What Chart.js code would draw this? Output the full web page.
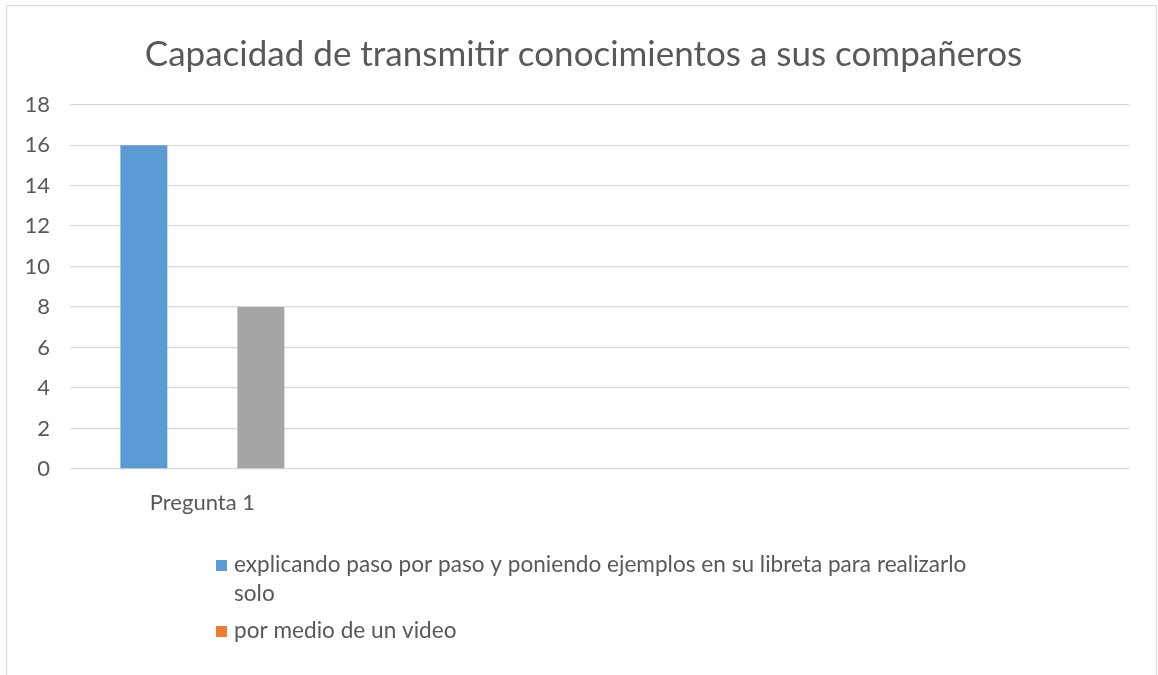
<!DOCTYPE html>
<html>
<head>
<meta charset="utf-8">
<script src="https://cdn.jsdelivr.net/npm/chart.js@4/dist/chart.umd.min.js"></script>
<style>
  html, body { margin: 0; padding: 0; background: #fff; overflow: hidden; }
  #wrap { position: relative; width: 1158px; height: 675px; }
</style>
</head>
<body>
<div id="wrap"><canvas id="grafico"></canvas></div>
<script>
// datos
const categorias = ['Pregunta 1', '', '', ''];
const serieExplicando = [16, null, null, null];
const serieVideo = [0, null, null, null];
const serieTercera = [8, null, null, null];
const nombresSeries = [
  'explicando paso por paso y poniendo ejemplos en su libreta para realizarlo solo',
  'por medio de un video',
  'serie 3'
];
const coloresSeries = ['#5B9BD5', '#ED7D31', '#A5A5A5'];
const ejeYMin = 0;
const ejeYMax = 18;
const ejeYPaso = 2;

const fuente = "Lato, 'Open Sans', sans-serif";
const grisTexto = '#595959';

// marco exterior del grafico
const marco = {
  id: 'marco',
  beforeDraw(chart) {
    const ctx = chart.ctx;
    ctx.save();
    ctx.fillStyle = '#fff';
    ctx.fillRect(0, 0, chart.width, chart.height);
    ctx.strokeStyle = '#D9D9D9';
    ctx.lineWidth = 1;
    ctx.strokeRect(6.5, 5.5, 1150, 700);
    ctx.restore();
  }
};

// el titulo va centrado sobre el area de trazado, no sobre todo el lienzo
const centrarTitulo = {
  id: 'centrarTitulo',
  afterLayout(chart) {
    if (chart.titleBlock) {
      chart.titleBlock.left = 38;
    }
  }
};

// leyenda estilo excel, una entrada por linea con ajuste de texto
const leyenda = {
  id: 'leyenda',
  afterDraw(chart) {
    const ctx = chart.ctx;
    ctx.save();
    ctx.font = '22.6px ' + fuente;
    ctx.textBaseline = 'middle';
    var y = 565;
    for (var i = 0; i < 2; i++) {
      var ds = chart.data.datasets[i];
      ctx.fillStyle = ds.backgroundColor;
      ctx.fillRect(216, y - 5, 11, 11);
      ctx.fillStyle = grisTexto;
      var palabras = ds.label.split(' ');
      var linea = '';
      var lineas = [];
      for (var p = 0; p < palabras.length; p++) {
        var prueba = linea ? linea + ' ' + palabras[p] : palabras[p];
        if (ctx.measureText(prueba).width > 760 && linea) {
          lineas.push(linea);
          linea = palabras[p];
        } else {
          linea = prueba;
        }
      }
      lineas.push(linea);
      for (var l = 0; l < lineas.length; l++) {
        ctx.fillText(lineas[l], 234, y);
        y += 29;
      }
      y += 8;
    }
    ctx.restore();
  }
};

new Chart(document.getElementById('grafico'), {
  type: 'bar',
  data: {
    labels: categorias,
    datasets: [
      { label: nombresSeries[0], data: serieExplicando, backgroundColor: coloresSeries[0] },
      { label: nombresSeries[1], data: serieVideo, backgroundColor: coloresSeries[1] },
      { label: nombresSeries[2], data: serieTercera, backgroundColor: coloresSeries[2] }
    ]
  },
  options: {
    responsive: true,
    maintainAspectRatio: false,
    animation: false,
    categoryPercentage: 0.663,
    barPercentage: 0.803,
    layout: { padding: { left: 6, right: 29, top: 0, bottom: 0 } },
    plugins: {
      legend: { display: false },
      tooltip: { enabled: false },
      title: {
        display: true,
        text: 'Capacidad de transmitir conocimientos a sus compañeros',
        color: grisTexto,
        font: { family: fuente, size: 35, weight: 'normal' },
        padding: { top: 34, bottom: 28.7 }
      }
    },
    scales: {
      x: {
        grid: { display: false },
        border: { display: false },
        ticks: { color: grisTexto, font: { family: fuente, size: 22 }, padding: 13 },
        afterFit: function(s) { s.height = 206; }
      },
      y: {
        min: ejeYMin,
        max: ejeYMax,
        ticks: { stepSize: ejeYPaso, color: grisTexto, font: { family: fuente, size: 22 }, padding: 20 },
        grid: { color: '#D9D9D9', lineWidth: 1.3, drawTicks: false },
        border: { display: false },
        afterFit: function(s) { s.width = 64; }
      }
    }
  },
  plugins: [marco, centrarTitulo, leyenda]
});
</script>
</body>
</html>
